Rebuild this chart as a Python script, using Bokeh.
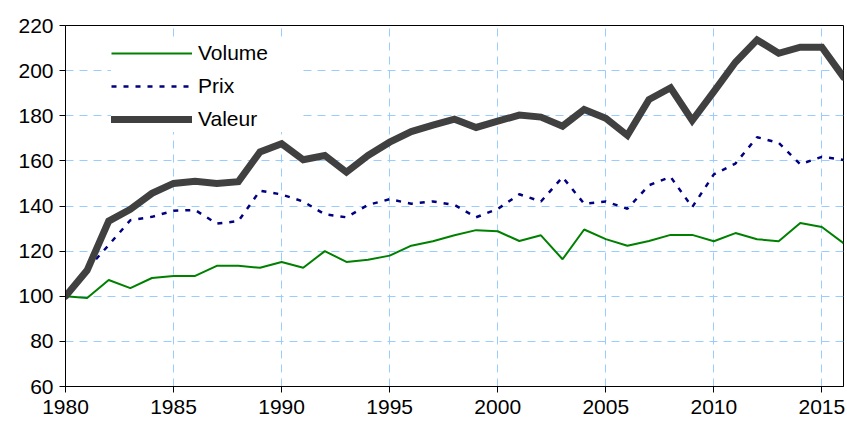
from bokeh.plotting import figure
from bokeh.models import Range1d, Legend, LegendItem, FixedTicker
from bokeh.embed import file_html
from bokeh.resources import INLINE

years = list(range(1980, 2017))
volume = [100, 99.2, 107.2, 103.6, 108.1, 109, 109, 113.5, 113.5, 112.6,
          115.2, 112.6, 120, 115.2, 116.2, 118, 122.4, 124.4, 127, 129.3,
          128.8, 124.5, 127, 116.4, 129.6, 125.3, 122.4, 124.5, 127.2, 127.2,
          124.4, 128, 125.3, 124.4, 132.5, 130.7, 123.5]
prix = [100, 112, 122.7, 133.7, 135.2, 137.9, 138.2, 132.2, 133.3, 146.8,
        145.1, 142, 136.3, 135, 140.5, 143, 141, 142, 140.5, 135,
        138.7, 145.2, 142, 152.8, 141, 142, 138.8, 149.2, 152.9, 139.5,
        154, 158.8, 170.5, 168, 158.5, 161.8, 160.4]
valeur = [100, 111.5, 133.3, 138.5, 145.6, 150, 151, 150, 150.8, 164,
          167.6, 160.5, 162.4, 155, 162.4, 168.3, 173, 175.8, 178.5, 174.8,
          177.6, 180.3, 179.4, 175.4, 182.8, 178.9, 171.3, 187.2, 192.4, 177.9,
          190.7, 203.7, 213.6, 207.7, 210.4, 210.4, 197.1]
x_ticks = [1980, 1985, 1990, 1995, 2000, 2005, 2010, 2015]
y_ticks = [60, 80, 100, 120, 140, 160, 180, 200, 220]
labels = ["Volume", "Prix", "Valeur"]

FONT = "Liberation Sans"

p = figure(width=847, height=422, output_backend="svg", toolbar_location=None,
           x_range=Range1d(1980, 2016), y_range=Range1d(60, 220),
           min_border_left=65, min_border_top=25, min_border_right=4,
           min_border_bottom=36)
p.outline_line_color = "black"
p.outline_line_width = 1

for ax, ticks in ((p.xaxis[0], x_ticks), (p.yaxis[0], y_ticks)):
    ax.ticker = FixedTicker(ticks=ticks)
    ax.major_label_text_font = FONT
    ax.major_label_text_font_size = "21px"
    ax.major_label_text_color = "black"
    ax.axis_line_color = "black"
    ax.major_tick_line_color = "black"
    ax.major_tick_in = 0
    ax.major_tick_out = 6
    ax.minor_tick_line_color = None
p.xaxis.major_label_standoff = 7
p.yaxis.major_label_standoff = 6

p.grid.grid_line_color = "#99ccff"
p.grid.grid_line_dash = "8 6"
p.grid.grid_line_width = 1
p.xgrid.ticker = FixedTicker(ticks=x_ticks)
p.ygrid.ticker = FixedTicker(ticks=y_ticks)

r_vol = p.line(years, volume, line_color="#008000", line_width=2)
r_prix = p.line(years, prix, line_color="#000080", line_width=2.5, line_dash="5 7")
r_val = p.line(years, valeur, line_color="#404040", line_width=7,
               line_join="miter", line_cap="round")

legend = Legend(items=[LegendItem(label=labels[0], renderers=[r_vol]),
                       LegendItem(label=labels[1], renderers=[r_prix]),
                       LegendItem(label=labels[2], renderers=[r_val])],
                location=(46, 254), padding=10, spacing=7,
                glyph_width=81, glyph_height=26, label_height=26, label_width=100,
                label_standoff=6, label_text_font=FONT, label_text_font_size="21px",
                label_text_color="black",
                border_line_color=None, background_fill_color="white",
                background_fill_alpha=1.0)
p.add_layout(legend, "center")

open("out.html", "w").write(file_html(p, INLINE))
